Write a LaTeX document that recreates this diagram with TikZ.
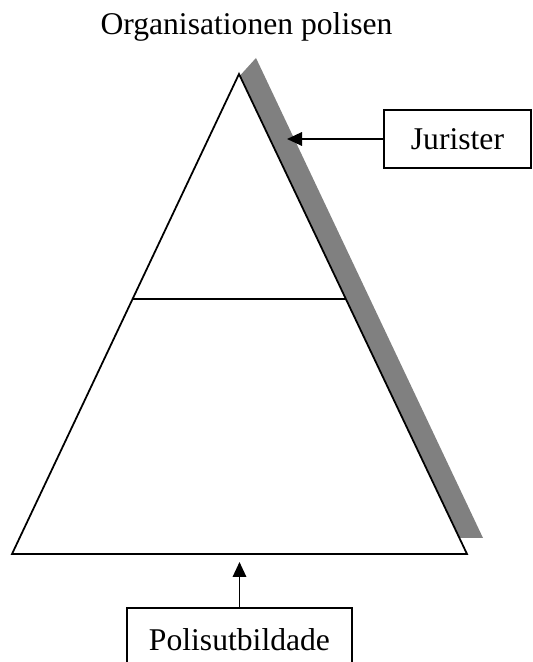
\documentclass[tikz,border=0pt]{standalone}
\usepackage{fontspec}
\setmainfont{Liberation Serif}
\usepackage{tikz}
\usetikzlibrary{arrows.meta, positioning, calc}
\usepackage{xcolor}
\definecolor{shadegray}{RGB}{128,128,128}

\begin{document}
\begin{tikzpicture}[
    label/.style={font=\fontsize{18}{21}\selectfont, inner sep=0pt},
    box/.style={draw=black, line width=1.5pt, minimum height=1.16cm,
                align=center, font=\fontsize{18}{21}\selectfont, fill=white},
    edge/.style={draw=black, line width=1pt, line join=miter},
    arr/.style={-{Triangle[length=0.3cm, width=0.27cm]}, line width=1pt, black}
]
\useasboundingbox (0,0) rectangle (10.64,13.24);

% Titel
\node[label, anchor=base] (title) at (4.93,12.54) {Organisationen polisen};

% Skugga langs hogra sidan
\fill[shadegray] (5.12,12.08) -- (9.66,2.48) -- (9.18,2.48) -- (4.72,11.64) -- cycle;

% Pyramiden
\coordinate (top) at (4.78,11.76);
\coordinate (bl)  at (0.24,2.16);
\coordinate (br)  at (9.34,2.16);
\filldraw[edge, fill=white] (top) -- (bl) -- (br) -- cycle;
\draw[edge] ($(top)!0.469!(bl)$) -- ($(top)!0.469!(br)$);

% Rutor
\node[box, minimum width=2.94cm] (jur) at (9.15,10.46) {Jurister};
\node[box, minimum width=4.5cm, minimum height=1.28cm] (pol) at (4.79,0.44) {Polisutbildade};

% Pilar
\coordinate (jurtip) at (5.74,10.46);
\coordinate (poltip) at (4.79,2.0);
\draw[arr] (jur.west) -- (jurtip);
\draw[arr] (pol.north) -- (poltip);

\end{tikzpicture}
\end{document}
